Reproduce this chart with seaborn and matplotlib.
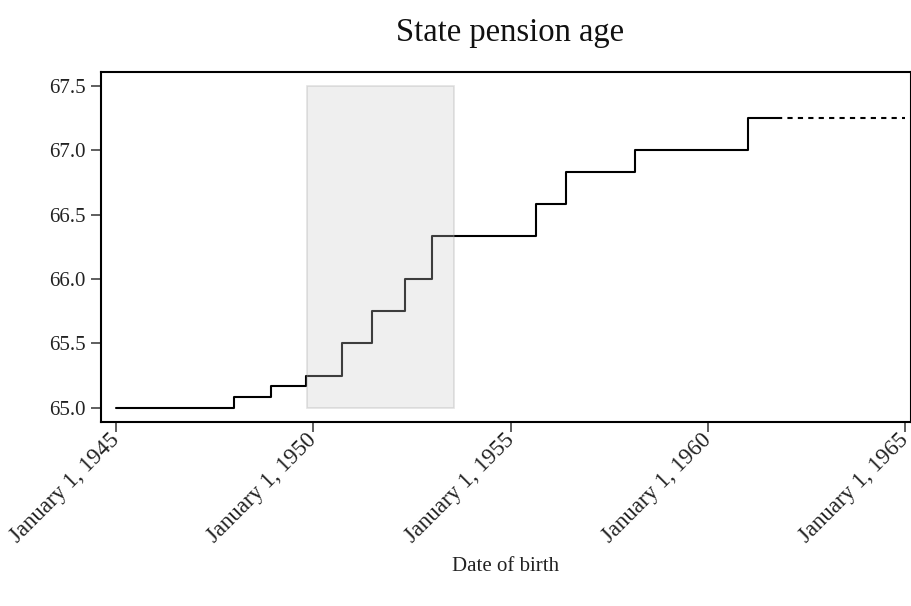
import matplotlib
matplotlib.use("Agg")
import matplotlib.pyplot as plt
import matplotlib.dates as mdates
from matplotlib.patches import Rectangle
import pandas as pd
import seaborn as sns

# Step changes in state pension age by date of birth
change_dates = ["1945-01-01", "1948-01-01", "1948-12-01", "1949-10-24",
                "1950-09-20", "1951-06-27", "1952-04-27", "1953-01-01",
                "1955-08-25", "1956-05-27", "1958-02-24", "1961-01-01",
                "1961-09-27"]
pension_age = [65.0, 65.0833, 65.1667, 65.25, 65.5, 65.75, 66.0, 66.3333,
               66.5833, 66.8333, 67.0, 67.25, 67.25]

# Projection beyond the legislated schedule
proj_dates = ["1961-09-27", "1965-01-01"]
proj_age = [67.25, 67.25]

# Highlighted cohort band
band_start, band_end = "1949-10-31", "1953-07-24"
band_low, band_high = 65.0, 67.5

y_ticks = [65.0, 65.5, 66.0, 66.5, 67.0, 67.5]

sns.set_theme(style="ticks")
plt.rcParams["font.family"] = ["Liberation Serif", "DejaVu Serif"]

steps = pd.DataFrame({"date": pd.to_datetime(change_dates), "age": pension_age})
proj = pd.DataFrame({"date": pd.to_datetime(proj_dates), "age": proj_age})

fig = plt.figure(figsize=(9.11, 6.06), dpi=100)
ax = fig.add_axes([101 / 911, 1 - 422 / 606, 810 / 911, 350 / 606])

sns.lineplot(data=steps, x="date", y="age", drawstyle="steps-post",
             color="black", linewidth=1.5, ax=ax)
sns.lineplot(data=proj, x="date", y="age", color="black", linewidth=1.5,
             linestyle=(0, (2.5, 2.5)), ax=ax)

x0 = mdates.date2num(pd.Timestamp(band_start))
x1 = mdates.date2num(pd.Timestamp(band_end))
ax.add_patch(Rectangle((x0, band_low), x1 - x0, band_high - band_low,
                       facecolor=(0.8, 0.8, 0.8), alpha=0.3,
                       edgecolor=(0.62, 0.62, 0.62), linewidth=1.2, zorder=3))

ax.set_xlim(pd.Timestamp("1944-08-14"), pd.Timestamp("1965-02-22"))
ax.set_ylim(64.889, 67.609)
ax.set_yticks(y_ticks)
ax.yaxis.set_major_formatter(plt.FuncFormatter(lambda v, p: f"{v:.1f}"))

ax.xaxis.set_major_locator(mdates.YearLocator(5, month=1, day=1))
ax.xaxis.set_major_formatter(plt.FuncFormatter(
    lambda v, p: (lambda d: f"{d:%B} {d.day}, {d.year}")(mdates.num2date(v))))

ax.tick_params(axis="both", length=7, width=1.1, color="#333333",
               labelcolor="#222222", pad=4)
ax.tick_params(axis="y", labelsize=15)
ax.tick_params(axis="x", labelsize=16.5)

for lab in ax.get_xticklabels():
    lab.set_rotation(45)
    lab.set_ha("right")
    lab.set_va("center")
    lab.set_rotation_mode("anchor")

for s in ax.spines.values():
    s.set_linewidth(1.5)
    s.set_color("black")

ax.set_xlabel("Date of birth", fontsize=15, color="#222222", labelpad=7)
ax.set_ylabel("")
fig.suptitle("State pension age", fontsize=23.5, color="#111111",
             x=510 / 911, y=1 - 18 / 606, va="top")

fig.savefig("out.png", dpi=100)
